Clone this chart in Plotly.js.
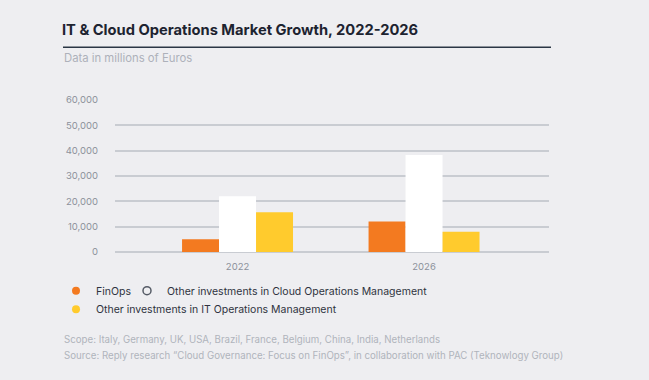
<!DOCTYPE html>
<html>
<head>
<meta charset="utf-8">
<script src="https://cdn.plot.ly/plotly-3.0.1.min.js"></script>
<style>
html,body{margin:0;padding:0;background:#eeeef1;}
#chart{width:649px;height:380px;}
</style>
</head>
<body>
<div id="chart"></div>
<script>
// ---- data ----
const years = ['2022', '2026'];
const finOps = [5000, 12000];
const cloudOps = [22000, 38300];
const itOps = [15700, 8000];
const seriesNames = ['FinOps', 'Other investments in Cloud Operations Management', 'Other investments in IT Operations Management'];
const yTicks = [0, 10000, 20000, 30000, 40000, 50000, 60000];

const FONT = 'Inter, "Noto Sans", sans-serif';
const W = 649, H = 380;
const L = 115, R = 100, T = 100, B = 128;
const pw = W - L - R, ph = H - T - B;
const px2x = p => (p - L) / pw;
const px2y = p => (H - B - p) / ph;

const colors = ['#f37a20', '#ffffff', '#ffcb2d'];
const vals = [finOps, cloudOps, itOps];

const traces = [];
vals.forEach((v, i) => {
  traces.push({
    type: 'bar', x: years, y: v, name: seriesNames[i],
    marker: {color: colors[i], line: {width: 0}},
    showlegend: false, hoverinfo: 'x+y+name'
  });
});
// legend entries with circular symbols
const legendSymbols = [
  {symbol: 'circle', color: colors[0], line: {width: 0}},
  {symbol: 'circle-open', color: '#555b66', line: {width: 1.5}},
  {symbol: 'circle', color: colors[2], line: {width: 0}}
];
const legendIds = ['legend', 'legend2', 'legend3'];
seriesNames.forEach((n, i) => {
  traces.push({
    type: 'scatter', mode: 'markers', x: [null], y: [null], name: n,
    marker: Object.assign({size: 8}, legendSymbols[i]),
    legend: legendIds[i], showlegend: true, hoverinfo: 'skip'
  });
});

const legendFont = {family: FONT, size: 10.5, color: '#2e3340'};
const mkLegend = (markerX, rowY) => ({
  orientation: 'h', x: px2x(markerX - 19), xanchor: 'left', y: px2y(rowY), yanchor: 'middle',
  bgcolor: 'rgba(0,0,0,0)', font: legendFont, itemclick: false, itemdoubleclick: false
});
const layout = {
  width: W, height: H,
  paper_bgcolor: '#eeeef1', plot_bgcolor: '#eeeef1',
  margin: {l: L, r: R, t: T, b: B, pad: 0},
  font: {family: FONT},
  title: {
    text: '<b>IT &amp; Cloud Operations Market Growth, 2022-2026</b>',
    x: 62 / W, xanchor: 'left', xref: 'container',
    y: 1 - 30 / H, yanchor: 'middle', yref: 'container',
    font: {family: FONT, size: 14.7, color: '#1d2330'}
  },
  barmode: 'group', bargap: 0.405, bargroupgap: 0,
  xaxis: {
    type: 'category', range: [-0.657, 1.67], fixedrange: true,
    showgrid: false, zeroline: false, showline: false,
    ticks: 'outside', ticklen: 6, tickcolor: 'rgba(0,0,0,0)',
    tickfont: {family: FONT, size: 9.5, color: '#8c919b'}
  },
  yaxis: {
    range: [0, 60000], tickvals: yTicks, tickformat: ',d', fixedrange: true,
    showgrid: true, gridcolor: '#c9ccd2', gridwidth: 2,
    zeroline: true, zerolinecolor: '#c9ccd2', zerolinewidth: 2,
    showline: false, ticks: 'outside', ticklen: 14, tickcolor: 'rgba(0,0,0,0)',
    tickfont: {family: FONT, size: 9.5, color: '#8c919b'}
  },
  legend: mkLegend(75, 290.7),
  legend2: mkLegend(146, 290.7),
  legend3: mkLegend(75, 309.3),
  shapes: [{
    type: 'line', xref: 'paper', yref: 'paper',
    x0: px2x(63), x1: px2x(551), y0: px2y(47.3), y1: px2y(47.3),
    line: {color: '#2a3645', width: 1.5}
  }],
  annotations: [
    {text: 'Data in millions of Euros', xref: 'paper', yref: 'paper', x: px2x(62), y: px2y(58),
     xanchor: 'left', yanchor: 'middle', showarrow: false, font: {family: FONT, size: 11.3, color: '#adb1ba'}},
    {text: 'Scope: Italy, Germany, UK, USA, Brazil, France, Belgium, China, India, Netherlands',
     xref: 'paper', yref: 'paper', x: px2x(62), y: px2y(339), xanchor: 'left', yanchor: 'middle',
     showarrow: false, font: {family: FONT, size: 9.7, color: '#b0b4bc'}},
    {text: 'Source: Reply research “Cloud Governance: Focus on FinOps”, in collaboration with PAC (Teknowlogy Group)',
     xref: 'paper', yref: 'paper', x: px2x(62), y: px2y(355), xanchor: 'left', yanchor: 'middle',
     showarrow: false, font: {family: FONT, size: 9.7, color: '#b0b4bc'}}
  ]
};

Plotly.newPlot('chart', traces, layout, {displayModeBar: false, staticPlot: true});
</script>
</body>
</html>
